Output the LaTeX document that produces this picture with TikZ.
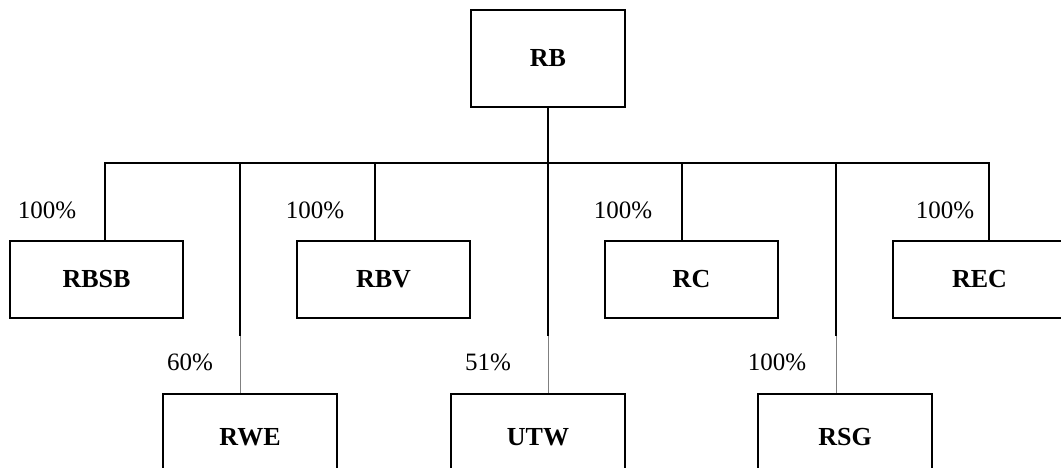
\documentclass[tikz,border=0pt]{standalone}
\usepackage{fontspec}
\setmainfont{Liberation Serif}
\begin{document}
\begin{tikzpicture}[x=1pt,y=-1pt,
  box/.style={draw,line width=1.1pt,inner sep=0pt,font=\fontsize{26}{30}\selectfont\bfseries},
  pct/.style={font=\fontsize{25}{29}\selectfont,inner sep=0pt},
  conn/.style={line width=1.1pt},
  thin/.style={line width=0.6pt,gray}]
\useasboundingbox (0,0) rectangle (1061,467);
% boxes
\node[box,minimum width=154pt,minimum height=97pt] (RB) at (548,58.5) {RB};
\node[box,minimum width=173pt,minimum height=77pt] (RBSB) at (96.5,279.5) {RBSB};
\node[box,minimum width=173pt,minimum height=77pt] (RBV) at (383.5,279.5) {RBV};
\node[box,minimum width=173pt,minimum height=77pt] (RC) at (691.5,279.5) {RC};
\node[box,minimum width=173pt,minimum height=77pt] (REC) at (979.5,279.5) {REC};
\node[box,minimum width=174pt,minimum height=86pt] (RWE) at (250,437) {RWE};
\node[box,minimum width=174pt,minimum height=86pt] (UTW) at (538,437) {UTW};
\node[box,minimum width=174pt,minimum height=86pt] (RSG) at (845,437) {RSG};
% percentages
\node[pct] (p1) at (47,210) {100\%};
\node[pct] (p2) at (315,210) {100\%};
\node[pct] (p3) at (623,210) {100\%};
\node[pct] (p4) at (945,210) {100\%};
\node[pct] (p5) at (190,362) {60\%};
\node[pct] (p6) at (488,362) {51\%};
\node[pct] (p7) at (777,362) {100\%};
% bus
\coordinate (bL) at (105,163);
\coordinate (bR) at (989,163);
\coordinate (b2) at (375,163);
\coordinate (b3) at (682,163);
\coordinate (b5) at (240,163);
\coordinate (b6) at (548,163);
\coordinate (b7) at (836,163);
\coordinate (k5) at (240,336);
\coordinate (k6) at (548,336);
\coordinate (k7) at (836,336);
\draw[conn] (RB.south) -- (b6);
\draw[conn] (bL |- RBSB.north) -- (bL) -- (bR) -- (bR |- REC.north);
\draw[conn] (b2) -- (b2 |- RBV.north);
\draw[conn] (b3) -- (b3 |- RC.north);
\draw[conn] (b5) -- (k5);
\draw[conn] (b6) -- (k6);
\draw[conn] (b7) -- (k7);
\draw[thin] (k5) -- (k5 |- RWE.north);
\draw[thin] (k6) -- (k6 |- UTW.north);
\draw[thin] (k7) -- (k7 |- RSG.north);
\end{tikzpicture}
\end{document}
